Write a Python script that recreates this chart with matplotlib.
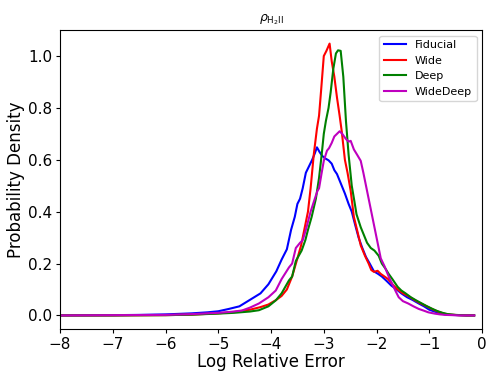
import numpy as np
import matplotlib
matplotlib.use('Agg')
import matplotlib.pyplot as plt

# Fiducial
x_fid = [-8, -7, -6.5, -6, -5.5, -5.2, -5.0, -4.8, -4.6, -4.4,
         -4.2, -4.05, -3.9, -3.8, -3.7, -3.62, -3.55, -3.5, -3.45, -3.4,
         -3.34, -3.28, -3.22, -3.17, -3.13, -3.08, -3.03, -2.97, -2.91, -2.85,
         -2.8, -2.75, -2.68, -2.6, -2.53, -2.47, -2.4, -2.34, -2.27, -2.2,
         -2.13, -2.05, -1.97, -1.9, -1.82, -1.72, -1.62, -1.53, -1.42, -1.32,
         -1.2, -1.1, -1.0, -0.9, -0.8, -0.7, -0.6, -0.45, -0.3, -0.15]
y_fid = [0, 0.001, 0.002, 0.004, 0.008, 0.012, 0.016, 0.025, 0.035, 0.06,
         0.085, 0.12, 0.17, 0.215, 0.255, 0.33, 0.38, 0.43, 0.45, 0.49,
         0.55, 0.575, 0.6, 0.625, 0.648, 0.63, 0.615, 0.605, 0.598, 0.585,
         0.56, 0.545, 0.51, 0.47, 0.43, 0.4, 0.345, 0.3, 0.26, 0.225,
         0.2, 0.17, 0.16, 0.15, 0.135, 0.115, 0.1, 0.085, 0.07, 0.06,
         0.046, 0.035, 0.022, 0.015, 0.008, 0.004, 0.002, 0.001, 0, 0]

# Wide
x_wide = [-8, -7, -6, -5.5, -5.0, -4.7, -4.4, -4.2, -4.05, -3.9,
          -3.8, -3.7, -3.6, -3.5, -3.43, -3.36, -3.3, -3.25, -3.19, -3.13,
          -3.09, -3.05, -3.0, -2.95, -2.89, -2.85, -2.8, -2.75, -2.7, -2.66,
          -2.6, -2.55, -2.49, -2.43, -2.37, -2.3, -2.22, -2.15, -2.1, -2.05,
          -1.98, -1.92, -1.85, -1.78, -1.7, -1.6, -1.5, -1.4, -1.3, -1.2,
          -1.1, -1.0, -0.9, -0.8, -0.7, -0.6, -0.45, -0.3, -0.15]
y_wide = [0, 0, 0.001, 0.003, 0.008, 0.013, 0.022, 0.032, 0.042, 0.06,
          0.075, 0.1, 0.15, 0.22, 0.27, 0.34, 0.4, 0.49, 0.62, 0.72,
          0.77, 0.87, 1.0, 1.02, 1.048, 0.98, 0.92, 0.84, 0.77, 0.71,
          0.6, 0.55, 0.48, 0.38, 0.33, 0.27, 0.23, 0.2, 0.175, 0.168,
          0.172, 0.16, 0.15, 0.14, 0.12, 0.1, 0.085, 0.075, 0.062, 0.05,
          0.04, 0.03, 0.02, 0.012, 0.006, 0.003, 0.001, 0, 0]

# Deep
x_deep = [-8, -7, -6, -5.5, -5.0, -4.7, -4.4, -4.23, -4.05, -3.91,
          -3.8, -3.66, -3.6, -3.53, -3.42, -3.35, -3.3, -3.23, -3.15, -3.09,
          -3.04, -3.0, -2.96, -2.91, -2.87, -2.82, -2.77, -2.73, -2.68, -2.63,
          -2.58, -2.53, -2.47, -2.42, -2.38, -2.3, -2.25, -2.18, -2.11, -2.04,
          -1.96, -1.9, -1.83, -1.77, -1.7, -1.6, -1.53, -1.45, -1.35, -1.25,
          -1.15, -1.05, -0.95, -0.85, -0.75, -0.65, -0.5, -0.3, -0.15]
y_deep = [0, 0, 0.001, 0.003, 0.007, 0.01, 0.015, 0.02, 0.035, 0.058,
          0.085, 0.135, 0.15, 0.21, 0.25, 0.29, 0.33, 0.38, 0.45, 0.53,
          0.62, 0.7, 0.75, 0.8, 0.86, 0.95, 1.01, 1.022, 1.02, 0.92,
          0.75, 0.62, 0.5, 0.44, 0.39, 0.34, 0.315, 0.28, 0.26, 0.25,
          0.23, 0.2, 0.18, 0.16, 0.14, 0.11, 0.096, 0.085, 0.07, 0.058,
          0.047, 0.036, 0.026, 0.017, 0.01, 0.005, 0.002, 0, 0]

# WideDeep
x_wd = [-8, -7, -6, -5.5, -5.0, -4.75, -4.55, -4.4, -4.23, -4.05,
        -3.91, -3.8, -3.66, -3.6, -3.53, -3.45, -3.4, -3.34, -3.25, -3.17,
        -3.12, -3.09, -3.04, -3.0, -2.94, -2.9, -2.85, -2.8, -2.75, -2.7,
        -2.65, -2.58, -2.53, -2.49, -2.43, -2.37, -2.3, -2.25, -2.21, -2.16,
        -2.11, -2.06, -2.02, -1.97, -1.92, -1.85, -1.77, -1.7, -1.63, -1.58,
        -1.5, -1.4, -1.3, -1.2, -1.1, -1.02, -0.9, -0.8, -0.7, -0.55,
        -0.4, -0.25, -0.15]
y_wd = [0, 0.001, 0.002, 0.005, 0.01, 0.014, 0.019, 0.03, 0.046, 0.07,
        0.096, 0.14, 0.185, 0.2, 0.26, 0.28, 0.29, 0.33, 0.4, 0.45,
        0.48, 0.49, 0.55, 0.596, 0.635, 0.645, 0.665, 0.69, 0.70, 0.71,
        0.70, 0.68, 0.67, 0.673, 0.64, 0.62, 0.596, 0.55, 0.51, 0.46,
        0.41, 0.36, 0.32, 0.27, 0.22, 0.19, 0.15, 0.12, 0.09, 0.07,
        0.055, 0.046, 0.035, 0.025, 0.018, 0.012, 0.007, 0.004, 0.002, 0.001,
        0, 0, 0]

fig = plt.figure(figsize=(4.98, 3.74), dpi=100)
ax = fig.add_axes([0.1205, 0.1203, 0.8475, 0.7995])

ax.plot(x_fid, y_fid, color='b', lw=1.5, label='Fiducial')
ax.plot(x_wide, y_wide, color='r', lw=1.5, label='Wide')
ax.plot(x_deep, y_deep, color='g', lw=1.5, label='Deep')
ax.plot(x_wd, y_wd, color='m', lw=1.5, label='WideDeep')

ax.set_xlim(-8, 0)
ax.set_title(r'$\rho_{\mathrm{H_2II}}$', fontsize=9)
ax.set_xlabel('Log Relative Error', fontsize=12, labelpad=1)
ax.set_ylabel('Probability Density', fontsize=12, labelpad=2)
ax.tick_params(labelsize=11, length=3, pad=2.5)
ax.legend(loc='upper right', fontsize=8)

fig.savefig('out.png', dpi=100)
